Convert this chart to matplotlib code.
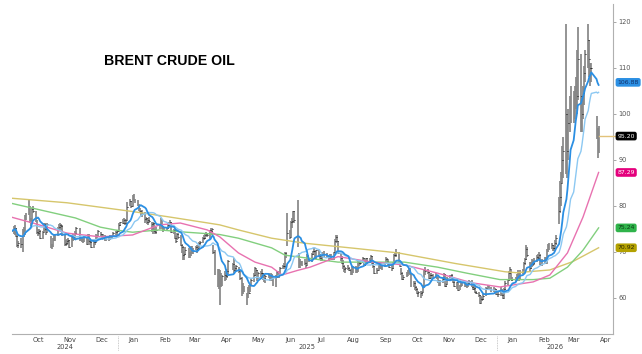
import numpy as np
import pandas as pd
import matplotlib
matplotlib.use("Agg")
import matplotlib.pyplot as plt
import matplotlib.dates as mdates
import matplotlib.transforms as mtransforms

# ---------------- data ----------------
first_day = "2024-09-20"
last_day = "2026-04-09"
holidays = ["2024-12-25", "2025-01-01", "2025-04-18", "2025-04-21",
            "2025-12-25", "2026-01-01", "2026-04-03", "2026-04-06"]

closes = [
    # Sep 2024
    74.5, 75.2, 75.2, 73.5, 71.6, 72.0, 71.8,
    # Oct 2024
    73.6, 73.9, 77.6, 78.1, 80.9, 77.2, 76.6, 79.4, 79.0, 77.5, 74.3, 74.2, 74.5, 73.1, 74.3, 76.0, 75.0, 74.4, 76.1, 71.4, 71.1, 72.6, 73.2,
    # Nov 2024
    73.1, 75.1, 75.5, 75.9, 75.6, 73.9, 71.8, 72.0, 72.3, 72.6, 71.0, 73.3, 73.3, 72.8, 74.2, 75.2, 73.0, 72.8, 72.8, 72.3, 72.9,
    # Dec 2024
    71.8, 73.6, 72.3, 72.1, 71.1, 72.1, 72.2, 73.5, 73.4, 74.5, 73.9, 73.2, 73.4, 72.9, 72.9, 72.6, 73.6, 73.3, 74.2, 74.4, 74.6,
    # Jan 2025
    75.9, 76.5, 76.3, 77.0, 76.2, 76.9, 79.8, 81.0, 79.9, 82.0, 81.3, 81.0, 80.2, 79.3, 79.0, 78.3, 78.5, 77.1, 77.5, 76.6, 76.9, 76.8,
    # Feb 2025
    76.0, 76.2, 74.6, 74.3, 74.7, 75.9, 77.0, 75.2, 75.0, 74.7, 75.2, 75.8, 76.0, 76.5, 74.4, 74.8, 73.0, 72.5, 74.0, 73.2,
    # Mar 2025
    71.6, 71.0, 69.3, 69.5, 70.4, 69.3, 69.6, 71.0, 70.0, 70.6, 71.1, 70.6, 70.8, 72.0, 72.2, 73.0, 73.0, 73.8, 74.0, 73.6, 74.7,
    # Apr 2025
    74.5, 74.9, 70.1, 65.6, 64.2, 62.8, 65.5, 63.3, 64.8, 64.9, 64.7, 65.9, 68.0, 67.4, 66.1, 66.6, 66.9, 65.9, 64.3, 63.1,
    # May 2025
    62.1, 61.3, 60.2, 62.2, 61.1, 62.8, 63.9, 65.0, 66.6, 66.1, 64.5, 65.4, 65.5, 65.4, 64.9, 64.4, 64.8, 64.7, 64.1, 64.9, 64.2, 63.9,
    # Jun 2025
    64.6, 65.6, 64.9, 65.3, 66.5, 67.0, 66.9, 69.8, 69.4, 74.2, 73.2, 76.5, 76.7, 78.9, 77.0, 71.5, 67.1, 67.7, 67.7, 67.8, 67.6,
    # Jul 2025
    67.1, 69.1, 68.8, 68.3, 69.6, 70.2, 70.2, 68.6, 70.4, 69.2, 68.7, 68.5, 69.5, 69.3, 69.2, 68.6, 68.5, 69.2, 68.4, 70.0, 72.5, 73.2, 72.5,
    # Aug 2025
    69.7, 68.8, 67.6, 66.9, 66.4, 66.6, 66.6, 66.1, 65.6, 66.8, 65.9, 66.6, 65.8, 67.8, 67.7, 67.7, 68.8, 67.2, 68.1, 68.6, 68.1,
    # Sep 2025
    68.2, 69.1, 67.6, 67.0, 65.5, 66.0, 66.4, 67.5, 66.4, 67.0, 67.4, 68.5, 68.0, 67.4, 66.7, 66.6, 67.6, 69.3, 69.4, 70.1, 68.0, 67.0,
    # Oct 2025
    65.4, 64.1, 64.5, 65.5, 65.5, 66.3, 65.2, 62.7, 63.3, 62.4, 61.9, 61.1, 61.3, 61.0, 61.3, 62.6, 66.0, 65.9, 65.6, 64.4, 64.9, 65.0, 65.1,
    # Nov 2025
    64.9, 64.4, 63.5, 63.4, 63.6, 64.1, 65.2, 62.7, 63.0, 64.4, 64.2, 64.9, 64.5, 63.5, 62.6, 63.4, 61.8, 62.6, 63.3, 63.2,
    # Dec 2025
    63.2, 62.5, 62.7, 63.3, 63.8, 62.5, 62.0, 62.2, 61.3, 61.1, 60.6, 58.9, 59.7, 59.8, 60.5, 62.1, 62.4, 62.3, 61.9, 61.5, 61.9, 60.9,
    # Jan 2026
    60.8, 61.8, 60.7, 60.0, 61.9, 63.3, 63.9, 65.5, 66.4, 64.0, 64.2, 64.0, 64.9, 65.2, 64.1, 65.9, 65.6, 67.6, 68.4, 70.7, 69.3,
    # Feb 2026
    66.5, 67.3, 67.5, 67.6, 68.0, 69.0, 68.8, 69.4, 67.5, 67.8, 68.6, 67.7, 70.3, 71.4, 71.3, 71.5, 70.8, 70.9, 72.0, 73.0,
    # Mar 2026
    79.0, 82.0, 85.0, 90.0, 92.0, 100.0, 92.0, 98.0, 101.0, 103.0, 100.0, 103.0, 106.0, 104.0, 112.0, 104.0, 100.0, 104.5, 109.0, 113.0, 116.0, 112.0,
    # Apr 2026
    110.0, 110.0, 97.5, 96.0, 95.2,
]

highs = [
    74.9, 75.6, 75.8, 75.3, 73.6, 72.5, 73.0,
    75.0, 75.5, 78.0, 78.5, 81.2, 80.0, 77.5, 79.6, 80.0, 79.0, 77.0, 74.9, 74.9, 74.8, 74.6, 76.3, 76.3, 75.5, 76.3, 73.5, 71.8, 73.0, 73.8,
    74.0, 75.5, 76.0, 76.4, 76.0, 75.9, 73.9, 72.6, 72.8, 73.0, 72.6, 73.6, 74.0, 73.5, 74.5, 75.5, 75.3, 73.3, 73.2, 72.9, 73.3,
    73.0, 73.9, 73.9, 72.8, 72.3, 72.6, 72.5, 73.9, 73.8, 74.7, 74.4, 73.9, 74.0, 73.6, 73.4, 73.4, 73.8, 73.6, 74.3, 74.6, 74.8,
    76.2, 76.6, 77.2, 77.4, 77.1, 77.1, 80.8, 81.5, 81.1, 82.4, 82.6, 81.5, 81.2, 80.4, 79.5, 79.1, 79.2, 78.6, 77.7, 77.4, 77.5, 77.7,
    76.6, 76.6, 76.4, 75.0, 75.4, 76.0, 77.3, 77.0, 75.6, 75.4, 75.3, 76.2, 76.6, 76.9, 76.5, 74.9, 74.8, 73.4, 74.2, 74.2,
    73.6, 71.8, 71.2, 70.2, 71.0, 70.8, 70.0, 71.3, 71.4, 70.8, 71.4, 71.6, 71.2, 72.2, 72.5, 73.2, 73.6, 74.0, 74.3, 74.0, 74.8,
    75.3, 75.2, 71.6, 70.4, 66.4, 66.2, 66.0, 65.5, 65.0, 65.8, 65.5, 66.4, 68.3, 67.6, 68.6, 66.9, 67.2, 66.7, 65.6, 64.5,
    63.2, 62.6, 61.0, 62.4, 62.8, 63.0, 64.2, 65.5, 66.8, 66.3, 66.1, 65.6, 65.8, 66.2, 65.5, 64.9, 65.0, 65.4, 64.8, 65.4, 65.2, 64.6,
    65.0, 65.9, 65.8, 65.6, 66.7, 67.2, 67.6, 70.0, 70.0, 78.5, 74.7, 76.7, 77.5, 79.0, 79.0, 81.4, 69.8, 68.4, 68.1, 68.1, 68.4,
    67.9, 69.5, 69.3, 68.8, 69.8, 70.3, 70.8, 70.3, 70.5, 70.5, 69.3, 69.6, 69.9, 70.2, 69.8, 69.3, 69.0, 69.6, 69.6, 70.1, 72.8, 73.6, 73.6,
    72.4, 69.8, 69.1, 68.2, 67.1, 66.7, 67.1, 66.8, 66.4, 67.0, 66.9, 66.9, 66.7, 68.0, 68.0, 68.0, 69.0, 68.8, 68.3, 68.8, 68.8,
    68.8, 69.4, 69.1, 67.7, 67.0, 66.6, 67.4, 67.9, 67.6, 67.2, 67.7, 68.9, 68.7, 68.5, 67.5, 67.2, 67.9, 69.6, 69.9, 70.6, 70.1, 67.9,
    66.6, 65.6, 65.0, 65.6, 66.0, 66.5, 66.6, 65.4, 63.8, 63.6, 62.6, 62.2, 61.6, 61.6, 61.6, 62.9, 66.4, 66.8, 66.3, 65.6, 65.2, 65.5, 65.3,
    65.4, 65.1, 64.6, 63.9, 64.0, 64.3, 65.5, 65.3, 63.3, 64.6, 64.9, 65.1, 65.2, 64.6, 63.8, 63.5, 63.2, 62.8, 63.5, 63.4,
    63.7, 63.5, 63.0, 63.6, 64.0, 63.9, 62.6, 62.8, 62.3, 61.6, 61.3, 60.7, 60.4, 60.3, 60.8, 62.4, 62.8, 62.6, 62.3, 62.4, 62.1, 62.0,
    61.3, 62.3, 62.0, 61.5, 62.2, 63.6, 64.2, 65.8, 66.8, 66.0, 64.6, 64.5, 65.3, 66.1, 65.5, 66.0, 66.3, 67.9, 68.7, 71.6, 71.0,
    67.9, 67.8, 68.4, 68.3, 68.6, 69.4, 69.6, 70.0, 69.6, 68.5, 69.0, 69.0, 70.7, 71.8, 72.0, 72.0, 71.6, 71.6, 72.6, 73.6,
    82.0, 85.5, 87.5, 93.0, 95.0, 119.5, 100.0, 101.0, 104.0, 106.0, 105.0, 106.0, 108.0, 114.0, 119.0, 113.0, 104.0, 106.0, 110.5, 114.0, 119.5, 116.0,
    111.0, 111.0, 99.5, 97.0, 97.5,
]

lows = [
    73.8, 73.9, 73.8, 73.2, 71.0, 70.9, 70.9,
    70.0, 73.2, 73.8, 77.0, 78.0, 76.3, 75.6, 76.8, 78.5, 76.6, 74.0, 73.4, 73.6, 72.8, 72.9, 74.3, 74.5, 73.6, 74.3, 70.8, 70.6, 71.0, 72.5,
    72.5, 73.4, 74.8, 74.5, 74.7, 73.5, 71.4, 71.4, 71.6, 71.8, 70.8, 71.1, 72.5, 72.6, 72.6, 73.9, 72.5, 72.3, 72.1, 72.0, 72.1,
    71.5, 71.8, 72.1, 71.6, 70.9, 70.9, 71.6, 72.2, 72.9, 73.3, 73.5, 72.8, 72.8, 72.4, 72.3, 72.4, 72.6, 72.9, 73.2, 73.8, 73.8,
    74.3, 75.6, 76.1, 76.0, 75.9, 76.0, 77.0, 79.9, 79.5, 79.8, 81.0, 80.6, 80.0, 78.9, 78.8, 77.9, 77.6, 76.2, 76.7, 76.0, 75.9, 76.3,
    74.3, 74.0, 74.3, 73.9, 73.9, 74.9, 75.8, 75.0, 74.4, 74.5, 74.8, 75.0, 75.5, 75.9, 74.2, 74.0, 72.8, 72.0, 72.6, 72.9,
    71.4, 69.8, 68.3, 68.3, 69.4, 68.6, 68.6, 69.2, 69.6, 69.6, 70.5, 69.8, 70.3, 70.6, 71.6, 72.0, 72.6, 72.9, 73.6, 73.3, 72.8,
    74.1, 73.8, 69.5, 64.9, 62.5, 62.0, 58.4, 62.5, 62.6, 63.8, 64.0, 64.4, 65.3, 66.0, 65.5, 65.8, 65.9, 65.4, 64.0, 60.5,
    60.9, 61.2, 58.4, 60.0, 60.9, 61.4, 62.6, 63.5, 64.8, 64.9, 63.8, 64.1, 64.6, 65.0, 64.0, 63.5, 63.3, 64.4, 63.7, 63.9, 63.8, 62.7,
    62.4, 64.5, 64.4, 64.3, 65.0, 66.2, 66.2, 66.5, 68.7, 71.4, 72.8, 73.3, 75.2, 76.4, 76.2, 71.0, 66.6, 66.6, 67.1, 67.0, 67.2,
    66.6, 67.1, 68.5, 67.8, 67.9, 69.3, 69.8, 68.5, 68.6, 68.9, 68.5, 68.1, 68.0, 69.0, 68.8, 68.6, 68.1, 68.2, 68.2, 68.2, 69.8, 72.0, 72.3,
    69.6, 68.1, 67.4, 66.4, 65.6, 65.5, 66.1, 65.8, 65.0, 65.0, 65.5, 65.5, 65.5, 65.7, 67.0, 67.1, 67.6, 67.0, 67.0, 67.7, 67.4,
    67.6, 68.0, 67.4, 66.6, 65.2, 65.2, 65.8, 66.4, 66.2, 66.0, 66.7, 67.3, 67.4, 67.0, 66.5, 65.9, 66.4, 67.4, 68.9, 69.0, 67.7, 66.8,
    65.0, 63.9, 63.9, 64.5, 64.8, 65.3, 65.1, 62.5, 62.4, 61.7, 61.6, 60.9, 60.3, 60.1, 60.4, 61.4, 62.6, 65.0, 65.2, 64.2, 64.2, 64.1, 64.2,
    64.3, 64.1, 63.2, 62.7, 62.6, 63.2, 64.0, 62.5, 62.5, 63.1, 63.7, 64.2, 64.2, 63.3, 62.3, 62.0, 61.6, 61.7, 62.4, 62.6,
    62.3, 62.3, 62.2, 62.5, 63.0, 62.3, 61.8, 61.7, 61.1, 60.8, 60.2, 58.6, 59.0, 59.3, 59.6, 60.5, 62.0, 61.7, 61.2, 61.2, 61.1, 60.6,
    60.3, 60.5, 60.4, 59.8, 60.0, 61.8, 62.8, 63.8, 65.2, 63.9, 63.6, 63.5, 63.8, 64.6, 63.8, 63.9, 65.3, 65.6, 67.2, 68.2, 68.9,
    65.9, 66.3, 66.8, 66.9, 67.2, 67.8, 68.2, 68.5, 67.2, 67.0, 67.4, 67.3, 67.5, 70.0, 70.5, 70.6, 70.2, 70.2, 70.7, 71.6,
    76.0, 78.5, 80.0, 85.0, 86.0, 87.0, 86.0, 90.0, 96.0, 98.0, 98.0, 99.0, 101.0, 100.0, 103.0, 96.0, 96.0, 99.0, 102.0, 107.0, 110.0, 108.0,
    106.0, 107.0, 94.5, 90.4, 91.5,
]

# long moving averages (date, value)
ma50_dates = ["2024-09-20", "2024-10-11", "2024-11-13", "2024-12-15", "2025-01-15", "2025-02-10",
              "2025-03-02", "2025-03-28", "2025-04-09", "2025-04-27", "2025-05-13", "2025-05-29",
              "2025-06-08", "2025-06-23", "2025-07-05", "2025-08-01", "2025-09-03", "2025-10-04",
              "2025-11-05", "2025-12-08", "2026-01-04", "2026-02-05", "2026-02-21", "2026-03-10",
              "2026-03-25", "2026-04-09"]
ma50_vals = [77.6, 76.3, 74.1, 73.3, 73.7, 75.9, 76.3, 74.8, 73.3, 69.8, 67.8, 66.7, 65.0, 66.0, 66.7,
             69.0, 67.8, 67.2, 65.4, 63.3, 62.4, 63.5, 65.0, 69.8, 77.6, 87.29]

ma100_dates = ["2024-09-20", "2024-10-19", "2024-11-21", "2024-12-15", "2024-12-29", "2025-01-15",
               "2025-02-10", "2025-03-08", "2025-04-09", "2025-04-27", "2025-05-29", "2025-06-11",
               "2025-07-05", "2025-08-01", "2025-10-04", "2025-11-05", "2025-12-03", "2026-01-04",
               "2026-02-05", "2026-02-21", "2026-03-10", "2026-03-25", "2026-04-09"]
ma100_vals = [80.6, 79.1, 77.4, 75.4, 74.8, 74.3, 74.8, 74.3, 73.8, 73.0, 70.9, 69.3, 68.6, 67.8,
              67.8, 66.7, 65.4, 64.0, 64.0, 64.3, 66.7, 70.4, 75.24]

ma200_dates = ["2024-09-20", "2024-11-13", "2025-01-15", "2025-02-17", "2025-03-26", "2025-04-09",
               "2025-04-27", "2025-05-29", "2025-06-30", "2025-08-17", "2025-09-28", "2025-11-22",
               "2026-01-09", "2026-01-20", "2026-02-21", "2026-03-15", "2026-04-09"]
ma200_vals = [81.7, 80.7, 78.8, 77.7, 76.4, 75.9, 74.8, 73.0, 71.9, 70.8, 69.8, 67.5, 65.7, 65.5,
              66.1, 67.9, 70.92]

month_labels = ["Oct", "Nov", "Dec", "Jan", "Feb", "Mar", "Apr", "May", "Jun", "Jul", "Aug", "Sep",
                "Oct", "Nov", "Dec", "Jan", "Feb", "Mar", "Apr"]
month_starts = pd.date_range("2024-10-01", "2026-04-01", freq="MS")
year_labels = ["2024", "2025", "2026"]

label_texts = ["106.88", "95.20", "87.29", "75.24", "70.92"]
label_values = [106.88, 95.20, 87.29, 75.24, 70.92]

# ---------------- figure ----------------
W, H = 642, 354
fig = plt.figure(figsize=(W / 100, H / 100), dpi=100)
ax_left, ax_right, ax_top, ax_bot = 12, 613, 4, 334
ax = fig.add_axes([ax_left / W, 1 - ax_bot / H, (ax_right - ax_left) / W, (ax_bot - ax_top) / H])

dates = pd.bdate_range(first_day, last_day).difference(pd.to_datetime(holidays))
assert len(dates) == len(closes) == len(highs) == len(lows), (len(dates), len(closes), len(highs), len(lows))
x = mdates.date2num(dates)
c = np.array(closes)

# x scale: 2025-01-01 at pixel 118, 1.038 px per day
x0 = mdates.date2num(pd.Timestamp("2025-01-01"))
ppd = 1.038
ax.set_xlim(x0 - (118 - ax_left) / ppd, x0 + (ax_right - 118) / ppd)
vpp = 4.6  # px per dollar, 120 at pixel 22
ax.set_ylim(120 - (ax_bot - 22) / vpp, 120 + (22 - ax_top) / vpp)

# bars
ax.vlines(x, lows, highs, color="#868686", lw=1.25, zorder=2)
ax.hlines(c, x, x + 0.7, color="#111111", lw=0.7, zorder=3)

# moving averages
s = pd.Series(c, index=dates)
ma10 = s.rolling(10, min_periods=1).mean()
ma20 = s.rolling(20, min_periods=1).mean()
col_ma200, col_ma100, col_ma50 = "#d6c66c", "#82cf7e", "#e872b0"
col_ma20, col_ma10 = "#8cc8f2", "#2b8fe3"
ax.plot(mdates.date2num(pd.to_datetime(ma200_dates)), ma200_vals, color=col_ma200, lw=1.0, zorder=4)
ax.plot(mdates.date2num(pd.to_datetime(ma100_dates)), ma100_vals, color=col_ma100, lw=1.0, zorder=4)
ax.plot(mdates.date2num(pd.to_datetime(ma50_dates)), ma50_vals, color=col_ma50, lw=1.0, zorder=4)
ax.plot(x, ma20.values, color=col_ma20, lw=1.0, zorder=5)
ax.plot(x, ma10.values, color=col_ma10, lw=1.3, zorder=6)

# last price line
ax.plot([x[-1], ax.get_xlim()[1] + 2], [c[-1], c[-1]], color="#e2c27a", lw=1.0, zorder=5, clip_on=False)

# axes styling
for sp in ["top", "left"]:
    ax.spines[sp].set_visible(False)
for sp in ["right", "bottom"]:
    ax.spines[sp].set_color("#b0b0b0")
    ax.spines[sp].set_linestyle((0, (1, 1)))
    ax.spines[sp].set_linewidth(0.8)
ax.yaxis.tick_right()
ax.set_yticks([60, 70, 80, 90, 100, 110, 120])
ax.tick_params(axis="y", length=2, width=0.6, color="#999999", labelsize=4.8, labelcolor="#555555", pad=2)

mids = [d + pd.Timedelta(days=15) for d in month_starts]
ax.set_xticks(mdates.date2num(mids))
ax.set_xticklabels(month_labels)
ax.tick_params(axis="x", length=0, labelsize=4.8, labelcolor="#444444", pad=2.5)

# year labels and separators
trans = mtransforms.blended_transform_factory(ax.transData, ax.transAxes)
xl = ax.get_xlim()
ybounds = [xl[0], mdates.date2num(pd.Timestamp("2025-01-01")),
           mdates.date2num(pd.Timestamp("2026-01-01")), xl[1]]
for i, yl in enumerate(year_labels):
    ax.text((ybounds[i] + ybounds[i + 1]) / 2, -0.038, yl, transform=trans, ha="center", va="center",
            fontsize=4.8, color="#444444")
for b in ybounds[1:3]:
    ax.plot([b, b], [-0.005, -0.05], transform=trans, color="#bbbbbb", lw=0.6, ls=(0, (1, 1)), clip_on=False)

# title
fig.text(104 / W, 1 - 61 / H, "BRENT CRUDE OIL", fontfamily="Liberation Sans", fontweight="bold",
         fontsize=10.2, ha="left", va="center", color="black")

# right side value labels
label_bg = [col_ma10, "#000000", "#e4007c", "#2fb34a", "#b3a100"]
label_fg = ["#10306a", "white", "white", "#0b3d14", "#2e2a00"]
for txt, val, bg, fg in zip(label_texts, label_values, label_bg, label_fg):
    ax.annotate(txt, xy=(1.0, val), xycoords=("axes fraction", "data"), xytext=(3.2, 0),
                textcoords="offset points", ha="left", va="center", fontsize=4.4, color=fg,
                bbox=dict(boxstyle="round,pad=0.3,rounding_size=0.35", fc=bg, ec="none"),
                annotation_clip=False, zorder=10)

fig.savefig("out.png", dpi=100, facecolor="white")
